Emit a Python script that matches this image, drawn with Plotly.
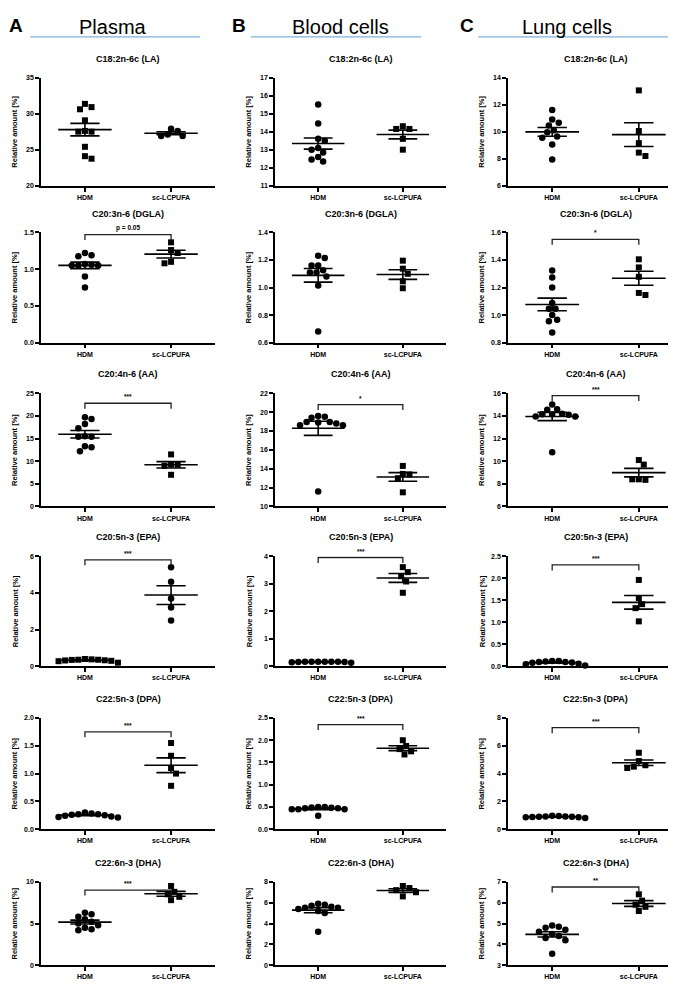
import numpy as np
import plotly.graph_objects as go

# ---------------- DATA ----------------
groups = ["HDM", "sc-LCPUFA"]
column_titles = ["Plasma", "Blood cells", "Lung cells"]
column_letters = ["A", "B", "C"]
fatty_acids = ["C18:2n-6c (LA)", "C20:3n-6 (DGLA)", "C20:4n-6 (AA)",
               "C20:5n-3 (EPA)", "C22:5n-3 (DPA)", "C22:6n-3 (DHA)"]

# Plasma
plasma_la_hdm = [31.35, 30.6, 30.9, 29.07, 27.6, 27.5, 27.5, 25.4, 23.75, 24.1]
plasma_la_sc = [27.9, 27.6, 27.1, 26.9, 26.9]
plasma_dgla_hdm = [1.19, 1.175, 1.22, 1.07, 1.05, 1.05, 1.05, 1.06, 0.90, 0.75]
plasma_dgla_sc = [1.365, 1.26, 1.22, 1.08, 1.10]
plasma_aa_hdm = [19.7, 19.3, 18.2, 17.3, 15.4, 15.4, 15.5, 13.3, 13.1, 12.2]
plasma_aa_sc = [11.5, 9.2, 9.0, 9.3, 7.0]
plasma_epa_hdm = [0.38, 0.36, 0.35, 0.32, 0.28, 0.20, 0.30, 0.33, 0.36, 0.40]
plasma_epa_sc = [5.4, 4.6, 3.7, 3.2, 2.5]
plasma_dpa_hdm = [0.28, 0.27, 0.26, 0.24, 0.22, 0.21, 0.23, 0.25, 0.27, 0.30]
plasma_dpa_sc = [1.55, 1.32, 1.10, 1.00, 0.78]
plasma_dha_hdm = [6.3, 6.1, 5.8, 5.5, 5.2, 5.0, 4.8, 4.5, 4.3, 4.2]
plasma_dha_sc = [9.5, 8.8, 8.5, 8.2, 7.8]

# Blood cells
blood_la_hdm = [15.5, 14.45, 13.5, 13.6, 12.85, 13.0, 13.1, 12.6, 12.35, 12.45]
blood_la_sc = [14.3, 14.15, 14.15, 13.6, 13.0]
blood_dgla_hdm = [1.215, 1.23, 1.16, 1.16, 1.11, 1.11, 1.125, 1.08, 1.015, 0.68]
blood_dgla_sc = [1.195, 1.137, 1.10, 1.045, 0.995]
blood_aa_hdm = [19.6, 19.4, 19.5, 18.95, 18.9, 18.6, 18.6, 18.8, 18.95, 11.6]
blood_aa_sc = [14.3, 13.4, 13.45, 13.0, 11.5]
blood_epa_hdm = [0.17, 0.17, 0.17, 0.16, 0.15, 0.13, 0.16, 0.17, 0.17, 0.17]
blood_epa_sc = [3.6, 3.42, 3.27, 3.08, 2.67]
blood_dpa_hdm = [0.50, 0.48, 0.47, 0.45, 0.45, 0.30, 0.45, 0.47, 0.49, 0.50]
blood_dpa_sc = [2.0, 1.87, 1.80, 1.75, 1.68]
blood_dha_hdm = [5.9, 5.8, 5.7, 5.6, 5.5, 5.5, 5.4, 5.2, 5.0, 3.2]
blood_dha_sc = [7.6, 7.4, 7.2, 7.0, 6.6]

# Lung cells
lung_la_hdm = [11.6, 10.9, 10.65, 10.45, 10.1, 9.95, 9.65, 9.55, 9.05, 7.95]
lung_la_sc = [13.05, 10.05, 9.15, 8.2, 8.45]
lung_dgla_hdm = [1.323, 1.273, 1.2, 1.088, 1.046, 1.046, 1.0, 0.966, 0.956, 0.873]
lung_dgla_sc = [1.405, 1.346, 1.278, 1.146, 1.161]
lung_aa_hdm = [15.0, 14.55, 14.6, 14.2, 14.15, 13.95, 13.95, 14.15, 14.1, 10.8]
lung_aa_sc = [10.1, 9.7, 8.4, 8.35, 8.4]
lung_epa_hdm = [0.12, 0.11, 0.10, 0.08, 0.06, 0.02, 0.05, 0.09, 0.10, 0.12]
lung_epa_sc = [1.96, 1.55, 1.41, 1.32, 1.02]
lung_dpa_hdm = [0.95, 0.92, 0.90, 0.88, 0.85, 0.80, 0.86, 0.89, 0.92, 0.96]
lung_dpa_sc = [5.5, 4.9, 4.6, 4.5, 4.4]
lung_dha_hdm = [4.9, 4.85, 4.8, 4.7, 4.6, 4.5, 4.4, 4.3, 4.2, 3.55]
lung_dha_sc = [6.4, 6.1, 5.9, 5.8, 5.6]

# y-axis tick values per panel (rows top to bottom)
plasma_ticks = [[20, 25, 30, 35], [0.0, 0.5, 1.0, 1.5], [0, 5, 10, 15, 20, 25],
                [0, 2, 4, 6], [0.0, 0.5, 1.0, 1.5, 2.0], [0, 5, 10]]
blood_ticks = [[11, 12, 13, 14, 15, 16, 17], [0.6, 0.8, 1.0, 1.2, 1.4], [10, 12, 14, 16, 18, 20, 22],
               [0, 1, 2, 3, 4], [0.0, 0.5, 1.0, 1.5, 2.0, 2.5], [0, 2, 4, 6, 8]]
lung_ticks = [[6, 8, 10, 12, 14], [0.8, 1.0, 1.2, 1.4, 1.6], [6, 8, 10, 12, 14, 16],
              [0.0, 0.5, 1.0, 1.5, 2.0, 2.5], [0, 2, 4, 6, 8], [3, 4, 5, 6, 7]]

# significance brackets: (column, row, label, level)
significance = [
    (0, 1, "p = 0.05", 1.47), (0, 2, "***", 22.8), (0, 3, "***", 5.8),
    (0, 4, "***", 1.75), (0, 5, "***", 9.0),
    (1, 2, "*", 20.8), (1, 3, "***", 3.95), (1, 4, "***", 2.35), (1, 5, "*", 8.6),
    (2, 1, "*", 1.55), (2, 2, "***", 15.8), (2, 3, "***", 2.3), (2, 4, "***", 7.3),
    (2, 5, "**", 6.75),
]

data = [
    [(plasma_la_hdm, plasma_la_sc), (plasma_dgla_hdm, plasma_dgla_sc), (plasma_aa_hdm, plasma_aa_sc),
     (plasma_epa_hdm, plasma_epa_sc), (plasma_dpa_hdm, plasma_dpa_sc), (plasma_dha_hdm, plasma_dha_sc)],
    [(blood_la_hdm, blood_la_sc), (blood_dgla_hdm, blood_dgla_sc), (blood_aa_hdm, blood_aa_sc),
     (blood_epa_hdm, blood_epa_sc), (blood_dpa_hdm, blood_dpa_sc), (blood_dha_hdm, blood_dha_sc)],
    [(lung_la_hdm, lung_la_sc), (lung_dgla_hdm, lung_dgla_sc), (lung_aa_hdm, lung_aa_sc),
     (lung_epa_hdm, lung_epa_sc), (lung_dpa_hdm, lung_dpa_sc), (lung_dha_hdm, lung_dha_sc)],
]
ticks = [plasma_ticks, blood_ticks, lung_ticks]

# ---------------- LAYOUT GEOMETRY ----------------
W, H = 676, 990
FONT = "Liberation Sans, Arial, sans-serif"
col_px = [(33, 207), (267, 438), (500, 675)]
row_px = [(66, 175), (222, 333), (384, 498), (548, 659), (711, 823), (876, 960)]
XR = [-0.51, 1.51]
MARKER = 6.5
DIST = 6.6


def px_x(px):
    return px / W


def px_y(py):
    return 1 - py / H


def swarm(vals, ppx, ppy):
    """Beeswarm offsets (in x data units) so markers do not overlap."""
    vals = np.asarray(vals, float)
    order = np.argsort(-vals, kind="stable")
    step = DIST / 4.0
    placed = []
    offs = np.zeros(len(vals))

    def ok(c, y):
        return all((c - a) ** 2 + (y - b) ** 2 >= DIST ** 2 * 0.98 for a, b in placed)

    for i in order:
        y = vals[i] * ppy
        chosen = None
        for k in range(0, 120):
            if k == 0:
                if ok(0.0, y):
                    chosen = 0.0
                    break
                continue
            cp, cm = k * step, -k * step
            okp, okm = ok(cp, y), ok(cm, y)
            if okp and okm:
                right = sum(1 for a, _ in placed if a > 0)
                left = sum(1 for a, _ in placed if a < 0)
                chosen = cm if right > left else cp
                break
            if okp:
                chosen = cp
                break
            if okm:
                chosen = cm
                break
        placed.append((chosen, y))
        offs[i] = chosen / ppx
    return offs


fig = go.Figure()
layout_axes = {}
annotations = []
shapes = []

for c in range(3):
    for r in range(6):
        idx = c * 6 + r + 1
        xa = "x" if idx == 1 else f"x{idx}"
        ya = "y" if idx == 1 else f"y{idx}"
        xkey = "xaxis" if idx == 1 else f"xaxis{idx}"
        ykey = "yaxis" if idx == 1 else f"yaxis{idx}"
        x0, x1 = col_px[c]
        y0, y1 = row_px[r]
        tv = ticks[c][r]
        yr = [tv[0], tv[-1]]
        ppx = (x1 - x0) / (XR[1] - XR[0])
        ppy = (y1 - y0) / (yr[1] - yr[0])
        decimals = any(abs(t - round(t)) > 1e-9 for t in tv)

        layout_axes[xkey] = dict(
            domain=[px_x(x0), px_x(x1)], range=XR, anchor=ya,
            tickmode="array", tickvals=[0, 1], ticktext=groups,
            showline=True, linecolor="black", linewidth=1.5,
            ticks="outside", ticklen=4, tickwidth=1.5, tickcolor="black",
            showgrid=False, zeroline=False,
            tickfont=dict(family=FONT, size=7, color="black", weight="bold"),
        )
        layout_axes[ykey] = dict(
            domain=[px_y(y1), px_y(y0)], range=yr, anchor=xa,
            tickmode="array", tickvals=tv,
            tickformat=".1f" if decimals else "d",
            showline=True, linecolor="black", linewidth=1.5,
            ticks="outside", ticklen=4, tickwidth=1.5, tickcolor="black",
            showgrid=False, zeroline=False,
            tickfont=dict(family=FONT, size=7, color="black", weight="bold"),
        )

        hdm, sc = data[c][r]
        sym_hdm, sym_sc = ("square", "circle") if (c == 0 and r in (0, 3)) else ("circle", "square")
        for gi, (vals, sym) in enumerate([(hdm, sym_hdm), (sc, sym_sc)]):
            offs = swarm(vals, ppx, ppy)
            fig.add_trace(go.Scatter(
                x=gi + offs, y=vals, mode="markers", xaxis=xa, yaxis=ya,
                marker=dict(symbol=sym, size=MARKER if sym == "circle" else MARKER - 0.5,
                            color="black", line=dict(width=0)),
                cliponaxis=False, showlegend=False, hoverinfo="y"))
            m = float(np.mean(vals))
            s = float(np.std(vals, ddof=1) / np.sqrt(len(vals)))
            fig.add_trace(go.Scatter(
                x=[gi - 0.31, gi + 0.31, None, gi - 0.17, gi + 0.17, None, gi - 0.17, gi + 0.17, None, gi, gi],
                y=[m, m, None, m + s, m + s, None, m - s, m - s, None, m - s, m + s],
                mode="lines", xaxis=xa, yaxis=ya, line=dict(color="black", width=1.6),
                cliponaxis=False, showlegend=False, hoverinfo="skip"))

        # panel title
        annotations.append(dict(
            text=fatty_acids[r], xref="paper", yref="paper",
            x=px_x((x0 + x1) / 2), y=px_y(y0 - 19), xanchor="center", yanchor="middle",
            showarrow=False, font=dict(family=FONT, size=9, color="black", weight="bold")))
        # y-axis title
        annotations.append(dict(
            text="Relative amount [%]", xref="paper", yref="paper", textangle=-90,
            x=px_x(x0 - 26), y=px_y((y0 + y1) / 2), xanchor="center", yanchor="middle",
            showarrow=False, font=dict(family=FONT, size=7.5, color="black", weight="bold")))

for (c, r, label, lvl) in significance:
    idx = c * 6 + r + 1
    xa = "x" if idx == 1 else f"x{idx}"
    ya = "y" if idx == 1 else f"y{idx}"
    tv = ticks[c][r]
    y0, y1 = row_px[r]
    upp = (tv[-1] - tv[0]) / (y1 - y0)
    drop = 5.5 * upp
    fig.add_trace(go.Scatter(
        x=[0, 0, 1, 1], y=[lvl - drop, lvl, lvl, lvl - drop], mode="lines",
        xaxis=xa, yaxis=ya, line=dict(color="#222222", width=1.3),
        cliponaxis=False, showlegend=False, hoverinfo="skip"))
    annotations.append(dict(
        text=label, xref=xa, yref=ya, x=0.5, y=lvl + 1.0 * upp, xanchor="center", yanchor="bottom",
        showarrow=False, font=dict(family=FONT, size=6.5, color="black", weight="bold")))

# column headers
header_cx = [105, 332, 559]
line_px = [(22, 192), (243, 413), (470, 673)]
letter_x = [8, 231, 459]
for c in range(3):
    annotations.append(dict(
        text=column_titles[c], xref="paper", yref="paper", x=px_x(header_cx[c]), y=px_y(15),
        xanchor="center", yanchor="middle", showarrow=False,
        font=dict(family=FONT, size=20, color="black")))
    annotations.append(dict(
        text=column_letters[c], xref="paper", yref="paper", x=px_x(letter_x[c]), y=px_y(14),
        xanchor="center", yanchor="middle", showarrow=False,
        font=dict(family=FONT, size=19, color="black", weight="bold")))
    shapes.append(dict(type="line", xref="paper", yref="paper",
                       x0=px_x(line_px[c][0]), x1=px_x(line_px[c][1]), y0=px_y(25), y1=px_y(25),
                       line=dict(color="#7fb0e0", width=1.2)))

fig.update_layout(
    width=W, height=H, margin=dict(l=0, r=0, t=0, b=0),
    paper_bgcolor="white", plot_bgcolor="white",
    annotations=annotations, shapes=shapes, showlegend=False,
    **layout_axes)

fig.write_html("out.html")
